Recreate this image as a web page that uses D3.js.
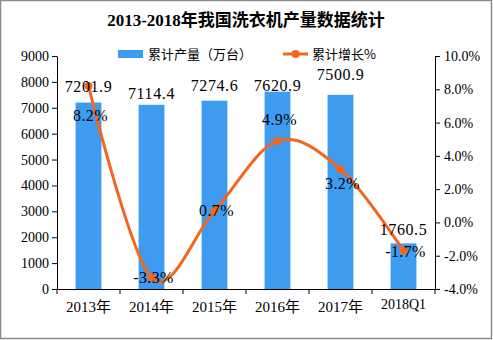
<!DOCTYPE html>
<html><head><meta charset="utf-8">
<script src="https://cdn.jsdelivr.net/npm/d3@7"></script>
<style>html,body{margin:0;padding:0;background:#fff;}svg{display:block;}</style>
</head><body>
<svg id="c" width="493" height="340"></svg>
<script>
const categories = ["2013年","2014年","2015年","2016年","2017年","2018Q1"];
const production = [7201.9, 7114.4, 7274.6, 7620.9, 7500.9, 1760.5];
const growth = [8.2, -3.3, 0.7, 4.9, 3.2, -1.7];
const leftTicks = [0,1000,2000,3000,4000,5000,6000,7000,8000,9000];
const rightTicks = [-4,-2,0,2,4,6,8,10];
// label layout offsets (px), not data
const barLabelDy = [-16, -11, -15, -6, -20, -14];
const pctLabelDy = [29, 0, 0, -21, 14, 1];

const svg = d3.select("#c");
const W = 493, H = 340;
const m = {l:57, r:58, t:56, b:51};
const iw = W - m.l - m.r, ih = H - m.t - m.b;
const num = "'Liberation Serif','DejaVu Serif',serif";
const cjk = "'Liberation Serif','Noto Sans CJK SC',serif";

svg.append("rect").attr("x",0.5).attr("y",0.5).attr("width",W-2).attr("height",H-2)
  .attr("fill","#fff").attr("stroke","#8a8a8a").attr("stroke-width",1.5);

svg.append("text").attr("x",246).attr("y",26).attr("text-anchor","middle")
  .attr("font-family","'Liberation Serif','Noto Sans CJK SC',serif").attr("font-weight","bold")
  .attr("font-size",17).text("2013-2018年我国洗衣机产量数据统计");

const g = svg.append("g").attr("transform",`translate(${m.l},${m.t})`);
const x = d3.scaleBand().domain(categories).range([0,iw]).paddingInner(0.59).paddingOuter(0.295);
const xb = d3.scaleBand().domain(categories).range([0,iw]);
const yL = d3.scaleLinear().domain([0,9000]).range([ih,0]);
const yR = d3.scaleLinear().domain([-4,10]).range([ih,0]);

const barColor = "#3d9cf0", lineColor = "#f5661d";

g.selectAll("rect.bar").data(production).join("rect").attr("class","bar")
  .attr("x",(d,i)=>x(categories[i])).attr("width",x.bandwidth())
  .attr("y",d=>yL(d)).attr("height",d=>ih-yL(d)).attr("fill",barColor);

// axes
const axL = g.append("g").call(d3.axisLeft(yL).tickValues(leftTicks).tickSize(5).tickSizeOuter(0).tickPadding(3)
  .tickFormat(d3.format("d")));
const axR = g.append("g").attr("transform",`translate(${iw},0)`)
  .call(d3.axisRight(yR).tickValues(rightTicks).tickSize(5).tickSizeOuter(0).tickPadding(4)
  .tickFormat(d=>d3.format(".1f")(d).replace("−","-")+"%"));
const axB = g.append("g").attr("transform",`translate(0,${ih})`)
  .call(d3.axisBottom(xb).tickSize(0).tickPadding(12));
[axL,axR,axB].forEach(a=>{
  a.selectAll("path.domain").attr("stroke","#000");
  a.selectAll("line").attr("stroke","#000");
  a.selectAll("text").attr("fill","#000").attr("font-family",cjk).attr("font-size",13);
});
axL.selectAll("text").attr("font-size",14);
axR.selectAll("text").attr("font-size",14);
axB.selectAll("text").attr("font-size",15).attr("dy","0.71em");
axB.selectAll("text").filter(d=>d==="2018Q1").attr("font-size",14).attr("dy","0.55em");
// bottom boundary ticks
const bounds = categories.map(c=>xb(c)).concat([iw]);
g.append("g").selectAll("line").data(bounds).join("line")
  .attr("x1",d=>d).attr("x2",d=>d).attr("y1",ih).attr("y2",ih+5).attr("stroke","#000");

// line
const px = i => xb(categories[i]) + xb.bandwidth()/2;
const line = d3.line().x((d,i)=>px(i)).y(d=>yR(d)).curve(d3.curveCardinal.tension(0));
g.append("path").datum(growth).attr("d",line).attr("fill","none")
  .attr("stroke",lineColor).attr("stroke-width",3);
g.selectAll("circle.pt").data(growth).join("circle").attr("class","pt")
  .attr("cx",(d,i)=>px(i)).attr("cy",d=>yR(d)).attr("r",4).attr("fill",lineColor);

// labels
g.selectAll("text.bl").data(production).join("text").attr("class","bl")
  .attr("x",(d,i)=>px(i)).attr("y",(d,i)=>yL(d)+barLabelDy[i]).attr("dy","0.35em")
  .attr("text-anchor","middle").attr("font-family",num).attr("font-size",16)
  .attr("letter-spacing",0.6).text(d=>d.toFixed(1));
g.selectAll("text.pl").data(growth).join("text").attr("class","pl")
  .attr("x",(d,i)=>px(i)+2).attr("y",(d,i)=>yR(d)+pctLabelDy[i]).attr("dy","0.35em")
  .attr("text-anchor","middle").attr("font-family",num).attr("font-size",16)
  .attr("letter-spacing",0.4).text(d=>d.toFixed(1)+"%");

// legend
const lg = svg.append("g");
lg.append("rect").attr("x",118).attr("y",50).attr("width",25).attr("height",8).attr("fill",barColor);
lg.append("text").attr("x",148).attr("y",54).attr("dy","0.35em").attr("font-family","'Noto Sans CJK SC',sans-serif")
  .attr("font-size",13).text("累计产量（万台）");
lg.append("line").attr("x1",283).attr("x2",308).attr("y1",54).attr("y2",54).attr("stroke",lineColor).attr("stroke-width",3);
lg.append("circle").attr("cx",295.5).attr("cy",54).attr("r",4).attr("fill",lineColor);
lg.append("text").attr("x",312).attr("y",54).attr("dy","0.35em").attr("font-family","'Noto Sans CJK SC',sans-serif")
  .attr("font-size",13).text("累计增长%");
</script>
</body></html>
